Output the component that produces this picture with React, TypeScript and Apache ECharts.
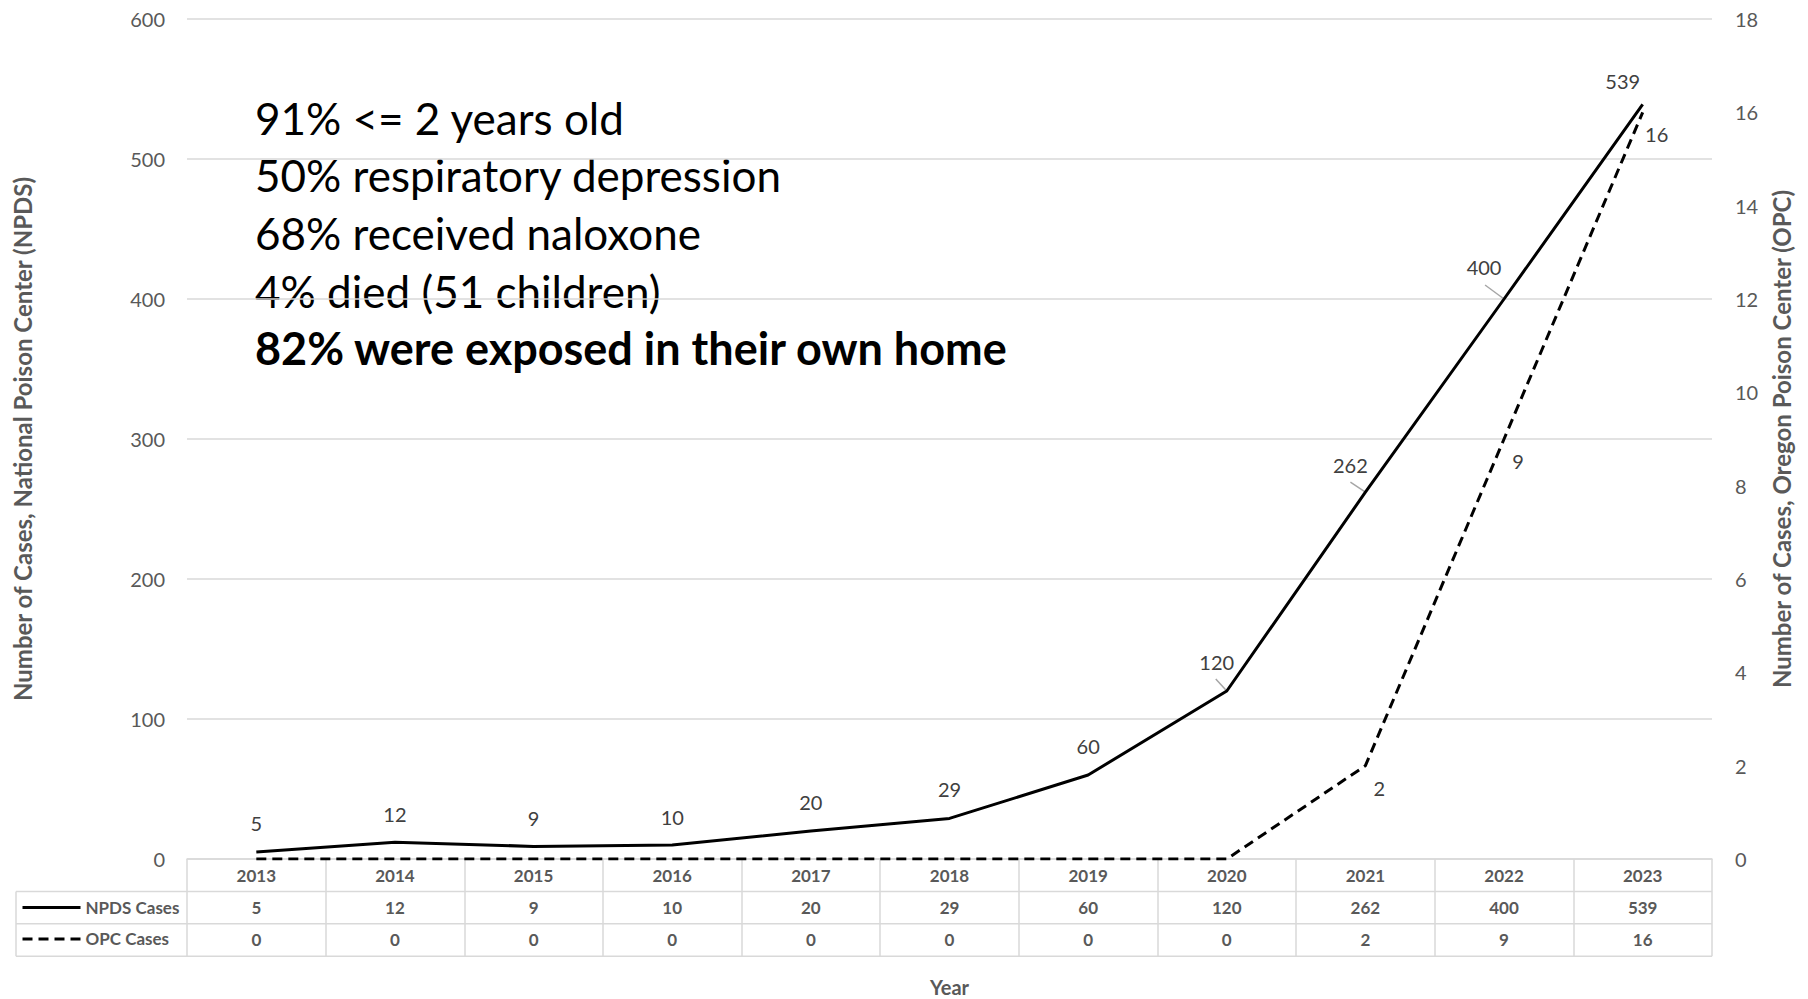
import React, { useEffect, useRef } from "react";
import * as echarts from "echarts";

// ---- data ----
const years = ["2013", "2014", "2015", "2016", "2017", "2018", "2019", "2020", "2021", "2022", "2023"];
const npdsCases = [5, 12, 9, 10, 20, 29, 60, 120, 262, 400, 539];
const opcCases = [0, 0, 0, 0, 0, 0, 0, 0, 2, 9, 16];
const npdsName = "NPDS Cases";
const opcName = "OPC Cases";
const leftAxis = { min: 0, max: 600, interval: 100 };
const rightAxis = { min: 0, max: 18, interval: 2 };
const leftTitle = "Number of Cases, National Poison Center (NPDS)";
const rightTitle = "Number of Cases, Oregon Poison Center (OPC)";
const xTitle = "Year";
const notes = ["91% <= 2 years old", "50% respiratory depression", "68% received naloxone", "4% died (51 children)"];
const boldNote = "82% were exposed in their own home";

// ---- layout / style ----
const W = 1808;
const H = 999;
const GL = 187;
const GR = 1712;
const GT = 19;
const GB = 859;
const ROW = 32.4;
const TABLE_LEFT = 16;
const FONT = "Lato, 'Open Sans', sans-serif";
const AXIS_GRAY = "#595959";
const LINE_GRAY = "#d9d9d9";
const LEADER_GRAY = "#a6a6a6";
// label nudges (dx, dy) in px for NPDS labels, by index
const npdsShift: number[][] = [
  [0, -29], [0, -28], [0, -28], [0, -28], [0, -29], [0, -29], [0, -29],
  [-10, -29], [-15, -27], [-20, -32], [-20, -23],
];
// leader lines: start offset from the point, by index (null = none)
const npdsLeaderFrom: (number[] | null)[] = [
  null, null, null, null, null, null, null, [-11, -12], [-15, -10], [-19, -14], null,
];
const opcShift = [14, 22];

export default function App() {
  const ref = useRef<HTMLDivElement>(null);
  useEffect(() => {
    document.body.style.margin = "0";
    if (!ref.current) return;
    const chart = echarts.init(ref.current, undefined, { renderer: "svg" });

    const rowLabel = (vals: number[]) => (_v: string, i: number) => String(vals[i]);

    const tableAxisBase = {
      type: "category",
      data: years,
      position: "bottom",
      gridIndex: 0,
      axisLine: { show: false },
      axisTick: { show: false },
      splitLine: { show: false },
    };
    const tableLabel = {
      interval: 0,
      color: AXIS_GRAY,
      fontFamily: FONT,
      fontWeight: 700,
      fontSize: 17,
      lineHeight: 20,
      margin: 6,
    };

    const graphic: any[] = [];
    [GB + ROW, GB + 2 * ROW, GB + 3 * ROW].forEach((y) => {
      graphic.push({
        type: "line",
        shape: { x1: TABLE_LEFT, y1: y, x2: GR, y2: y },
        style: { stroke: LINE_GRAY, lineWidth: 1.5 },
      });
    });
    graphic.push({
      type: "line",
      shape: { x1: TABLE_LEFT, y1: GB + ROW, x2: TABLE_LEFT, y2: GB + 3 * ROW },
      style: { stroke: LINE_GRAY, lineWidth: 1.5 },
    });
    const noteY = [118, 175, 233, 291, 348];
    notes.concat([boldNote]).forEach((t, i) => {
      const bold = i === notes.length;
      graphic.push({
        type: "text",
        x: 255,
        y: noteY[i],
        style: {
          text: t,
          fill: "#000",
          fontFamily: FONT,
          fontSize: bold ? 45 : 44,
          fontWeight: bold ? "bold" : "normal",
          verticalAlign: "middle",
          align: "left",
        },
      });
    });

    const leaderData = npdsCases
      .map((v, i) => [i, v])
      .filter((_d, i) => npdsLeaderFrom[i] !== null);

    const option: any = {
      animation: false,
      backgroundColor: "#fff",
      grid: {
        left: GL,
        right: W - GR,
        top: GT,
        bottom: H - GB,
        containLabel: false,
        outerBoundsMode: "none",
      },
      legend: {
        data: [npdsName, opcName],
        orient: "vertical",
        left: 16,
        top: GB + ROW * 1.5 - 15,
        padding: 5,
        itemWidth: 58,
        itemHeight: 20,
        itemGap: 11.3,
        itemStyle: { opacity: 0 },
        lineStyle: { width: 3 },
        textStyle: { color: AXIS_GRAY, fontFamily: FONT, fontWeight: 700, fontSize: 17, lineHeight: 20 },
        selectedMode: false,
      },
      xAxis: [
        {
          type: "category",
          data: years,
          position: "bottom",
          boundaryGap: true,
          axisLine: { show: true, lineStyle: { color: LINE_GRAY, width: 1.5 } },
          axisTick: { show: true, interval: 0, length: ROW * 3, lineStyle: { color: LINE_GRAY, width: 1.5 } },
          axisLabel: { ...tableLabel },
          splitLine: { show: false },
          name: xTitle,
          nameLocation: "middle",
          nameGap: 118,
          nameTextStyle: { color: AXIS_GRAY, fontFamily: FONT, fontWeight: 700, fontSize: 20 },
        },
        {
          ...tableAxisBase,
          offset: ROW,
          axisLabel: { ...tableLabel, formatter: rowLabel(npdsCases) },
        },
        {
          ...tableAxisBase,
          offset: ROW * 2,
          axisLabel: { ...tableLabel, formatter: rowLabel(opcCases) },
        },
      ],
      yAxis: [
        {
          type: "value",
          position: "left",
          min: leftAxis.min,
          max: leftAxis.max,
          interval: leftAxis.interval,
          axisLine: { show: false },
          axisTick: { show: false },
          axisLabel: { color: AXIS_GRAY, fontFamily: FONT, fontSize: 20, margin: 22 },
          splitLine: { show: true, lineStyle: { color: LINE_GRAY, width: 1.5 } },
          name: leftTitle,
          nameLocation: "middle",
          nameRotate: 90,
          nameGap: 153,
          nameTextStyle: { color: AXIS_GRAY, fontFamily: FONT, fontWeight: 700, fontSize: 24 },
        },
        {
          type: "value",
          position: "right",
          min: rightAxis.min,
          max: rightAxis.max,
          interval: rightAxis.interval,
          axisLine: { show: false },
          axisTick: { show: false },
          axisLabel: { color: AXIS_GRAY, fontFamily: FONT, fontSize: 20, margin: 23 },
          splitLine: { show: false },
          name: rightTitle,
          nameLocation: "middle",
          nameRotate: 90,
          nameGap: 55,
          nameTextStyle: { color: AXIS_GRAY, fontFamily: FONT, fontWeight: 700, fontSize: 24 },
        },
      ],
      series: [
        {
          name: npdsName,
          type: "line",
          xAxisIndex: 0,
          yAxisIndex: 0,
          symbol: "circle",
          symbolSize: 0,
          showSymbol: true,
          lineStyle: { color: "#000", width: 3, type: "solid" },
          itemStyle: { color: "#000" },
          data: npdsCases,
          label: {
            show: true,
            position: "inside",
            color: "#404040",
            fontFamily: FONT,
            fontSize: 20,
          },
          labelLayout: (p: any) => ({ dx: npdsShift[p.dataIndex][0], dy: npdsShift[p.dataIndex][1] }),
          z: 3,
        },
        {
          name: opcName,
          type: "line",
          xAxisIndex: 0,
          yAxisIndex: 1,
          symbol: "circle",
          symbolSize: 0,
          showSymbol: true,
          lineStyle: { color: "#000", width: 3, type: [10, 6] },
          itemStyle: { color: "#000" },
          data: opcCases.map((v) => ({
            value: v,
            label: { show: v > 0 },
          })),
          label: {
            show: true,
            position: "inside",
            color: "#404040",
            fontFamily: FONT,
            fontSize: 20,
          },
          labelLayout: () => ({ dx: opcShift[0], dy: opcShift[1] }),
          z: 3,
        },
        {
          name: "leaders",
          type: "custom",
          xAxisIndex: 0,
          yAxisIndex: 0,
          silent: true,
          data: leaderData,
          renderItem: (_params: any, api: any) => {
            const idx = api.value(0);
            const p = api.coord([idx, api.value(1)]);
            const o = npdsLeaderFrom[idx] || [0, 0];
            return {
              type: "line",
              shape: { x1: p[0] + o[0], y1: p[1] + o[1], x2: p[0], y2: p[1] },
              style: { stroke: LEADER_GRAY, lineWidth: 1.5 },
            };
          },
          z: 2,
        },
      ],
      graphic,
    };
    chart.setOption(option);
    return () => chart.dispose();
  }, []);
  return <div ref={ref} style={{ width: W, height: H }} />;
}
